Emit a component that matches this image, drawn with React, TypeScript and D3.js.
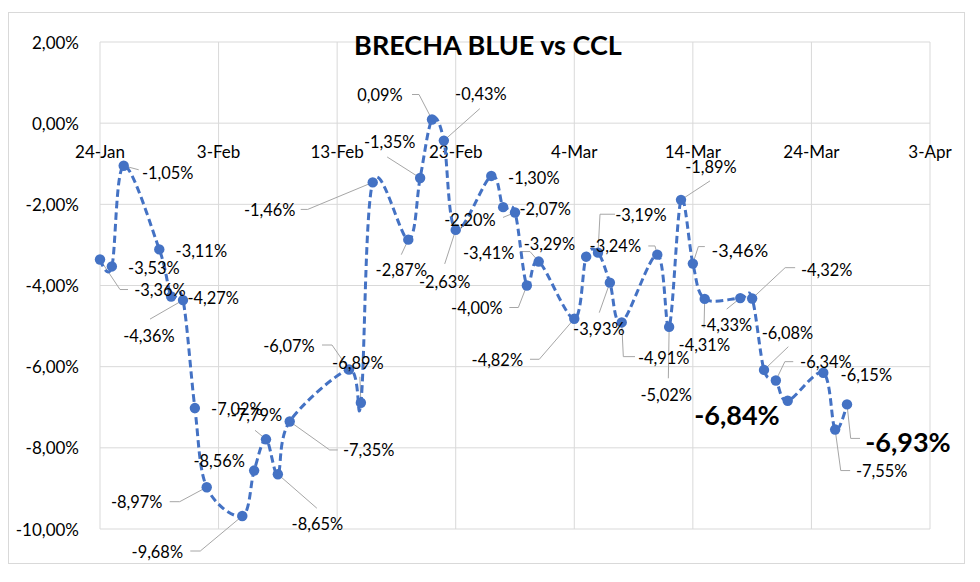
import React from "react";
import * as d3 from "d3";

const dates = [
  "2024-01-24", "2024-01-25", "2024-01-26", "2024-01-29", "2024-01-30", "2024-01-31",
  "2024-02-01", "2024-02-02", "2024-02-05", "2024-02-06", "2024-02-07", "2024-02-08",
  "2024-02-09", "2024-02-14", "2024-02-15", "2024-02-16", "2024-02-19", "2024-02-20",
  "2024-02-21", "2024-02-22", "2024-02-23", "2024-02-26", "2024-02-27", "2024-02-28",
  "2024-02-29", "2024-03-01", "2024-03-04", "2024-03-05", "2024-03-06", "2024-03-07",
  "2024-03-08", "2024-03-11", "2024-03-12", "2024-03-13", "2024-03-14", "2024-03-15",
  "2024-03-18", "2024-03-19", "2024-03-20", "2024-03-21", "2024-03-22", "2024-03-25",
  "2024-03-26", "2024-03-27",
];

const values = [
  -3.36, -3.53, -1.05, -3.11, -4.27, -4.36,
  -7.02, -8.97, -9.68, -8.56, -7.79, -8.65,
  -7.35, -6.07, -6.89, -1.46, -2.87, -1.35,
  0.09, -0.43, -2.63, -1.30, -2.07, -2.20,
  -4.00, -3.41, -4.82, -3.29, -3.19, -3.93,
  -4.91, -3.24, -5.02, -1.89, -3.46, -4.33,
  -4.31, -4.32, -6.08, -6.34, -6.84, -6.15,
  -7.55, -6.93,
];

const xTickDates = [
  "2024-01-24", "2024-02-03", "2024-02-13", "2024-02-23",
  "2024-03-04", "2024-03-14", "2024-03-24", "2024-04-03",
];
const yTickValues = [2, 0, -2, -4, -6, -8, -10];
const boldLabelDates = ["2024-03-22", "2024-03-27"];
const largerLabelDates = ["2024-03-14"];
const title = "BRECHA BLUE vs CCL";

// label placement: [dx, dy, leader waypoints relative to the point]
const labelPlacement: [number, number, number[][]][] = [
  [60, 30, [[28, 30], [20, 30]]],
  [42, 1.5, []],
  [44, 7, [[15, 4]]],
  [42, 1, []],
  [42, 1, []],
  [-34, 35, [[-33, 19]]],
  [42, 0, []],
  [-70, 14.5, [[-37, 14.5], [-27, 14.5]]],
  [-85, 35, [[-52, 35], [-42, 35]]],
  [-35, -10, []],
  [-9.5, -25, [[-11, -9]]],
  [39.5, 49, [[39, 34]]],
  [79, 28.5, [[48, 28.5], [40, 28.5]]],
  [-60, -24, [[-27, -24.5], [-17, -24.5]]],
  [-3, -40.5, [[-1, -26]]],
  [-103, 27.5, [[-72, 27], [-65, 27]]],
  [-7, 29.5, [[-7, 15]]],
  [-30.5, -36, [[-33, -21]]],
  [-52, -24.6, [[-20, -25], [-13, -25]]],
  [37, -47, [[36, -32]]],
  [-11, 52, [[-11, 34]]],
  [42.5, 1.3, []],
  [42, 1, []],
  [-45, 7, [[-12, 5]]],
  [-50, 22, [[-17.5, 22], [-8.5, 22]]],
  [-50, -9, [[-18.7, -10], [-8.7, -10]]],
  [-77, 40.5, [[-44.3, 40.5], [-35, 40.5]]],
  [-36.7, -13.4, []],
  [43, -38, [[17, -38.4], [2, -38.4]]],
  [-11, 46, [[-10.6, 30]]],
  [42, 35, [[13.3, 34.2], [1.6, 34.2]]],
  [-42, -8.7, [[-9, -8.7], [-2.3, -8.7]]],
  [-3, 68, [[-0.8, 51.4]]],
  [30, -33, [[29, -19]]],
  [47, -14, [[12, -17], [5.5, -17]]],
  [21.6, 26, [[-0.7, 29]]],
  [-36, 46, [[-13.6, 11]]],
  [74.6, -29, [[43, -30.8], [33, -30.8]]],
  [23.5, -37.6, [[24.3, -23.2]]],
  [50, -19, [[17.4, -18.8], [9, -18.8]]],
  [-50.7, 13.5, []],
  [43, 1.5, []],
  [46.6, 41, [[15, 41], [5.6, 41]]],
  [61, 37, [[13, 34], [3.7, 34]]],
];

const FONT = "Lato, 'Liberation Sans', sans-serif";
const BLUE = "#4472C4";
const GRID = "#d9d9d9";

export default function App() {
  const W = 980;
  const H = 582;
  const parse = d3.utcParse("%Y-%m-%d");
  const fmtDate = d3.utcFormat("%-d-%b");
  const x = d3
    .scaleUtc()
    .domain([parse("2024-01-24") as Date, parse("2024-04-03") as Date])
    .range([100, 930]);
  const y = d3.scaleLinear().domain([-10, 2]).range([529, 42]);

  const pts = dates.map((d, i) => ({
    d,
    px: x(parse(d) as Date),
    py: y(values[i]),
    v: values[i],
  }));

  const line = d3
    .line<{ px: number; py: number }>()
    .x((p) => p.px)
    .y((p) => p.py)
    .curve(d3.curveCardinal.tension(0));

  const fmtVal = (v: number) => v.toFixed(2).replace(".", ",") + "%";

  return (
    <svg
      width={W}
      height={H}
      style={{ position: "absolute", left: 0, top: 0, background: "#fff" }}
      fontFamily={FONT}
    >
      <rect x={0} y={0} width={W} height={H} fill="#fff" />
      <rect x={8.5} y={12.5} width={956} height={551} fill="none" stroke={GRID} strokeWidth={1} />

      {yTickValues.map((t) => (
        <line key={"hy" + t} x1={100} x2={930} y1={y(t)} y2={y(t)} stroke={GRID} strokeWidth={1} />
      ))}
      {xTickDates.map((d) => (
        <line
          key={"vx" + d}
          x1={x(parse(d) as Date)}
          x2={x(parse(d) as Date)}
          y1={42}
          y2={529}
          stroke={GRID}
          strokeWidth={1}
        />
      ))}

      {yTickValues.map((t) => (
        <text
          key={"yl" + t}
          x={79}
          y={y(t)}
          textAnchor="end"
          dominantBaseline="central"
          fontSize={17}
          fill="#000"
        >
          {t.toFixed(2).replace(".", ",") + "%"}
        </text>
      ))}
      {xTickDates.map((d) => (
        <text
          key={"xl" + d}
          x={x(parse(d) as Date)}
          y={y(0) + 28}
          textAnchor="middle"
          dominantBaseline="central"
          fontSize={17}
          fill="#000"
        >
          {fmtDate(parse(d) as Date)}
        </text>
      ))}

      {pts.map((p, i) => {
        const lp = labelPlacement[i][2];
        if (!lp.length) return null;
        const path = lp.map((o) => [p.px + o[0], p.py + o[1]] as [number, number]);
        path.push([p.px, p.py]);
        return (
          <path
            key={"ld" + i}
            d={d3.line()(path) as string}
            fill="none"
            stroke="#a6a6a6"
            strokeWidth={1}
          />
        );
      })}

      <path
        d={line(pts) as string}
        fill="none"
        stroke={BLUE}
        strokeWidth={3}
        strokeDasharray="7.5 4"
      />
      {pts.map((p, i) => (
        <circle key={"m" + i} cx={p.px} cy={p.py} r={5.2} fill={BLUE} />
      ))}

      {pts.map((p, i) => {
        const bold = boldLabelDates.includes(p.d);
        const larger = largerLabelDates.includes(p.d);
        const [dx, dy] = labelPlacement[i];
        return (
          <text
            key={"dl" + i}
            x={p.px + dx}
            y={p.py + dy}
            textAnchor="middle"
            dominantBaseline="central"
            fontSize={bold ? 27 : larger ? 18 : 16.4}
            fontWeight={bold ? 700 : 400}
            fill="#000"
          >
            {fmtVal(p.v)}
          </text>
        );
      })}

      <text
        x={488}
        y={44}
        textAnchor="middle"
        dominantBaseline="central"
        fontSize={27}
        fontWeight={700}
        fill="#000"
      >
        {title}
      </text>
    </svg>
  );
}
